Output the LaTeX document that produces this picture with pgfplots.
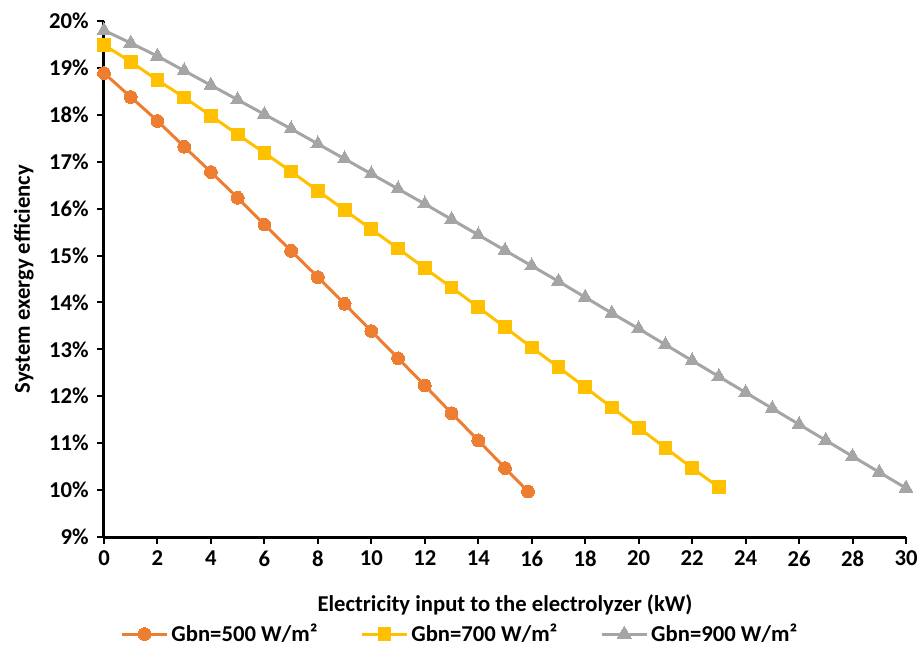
\documentclass[border=0pt]{standalone}
\usepackage{fontspec}
\setmainfont{Carlito}
\usepackage{pgfplots}
\pgfplotsset{compat=1.18}
\definecolor{cOrange}{HTML}{ED7D31}
\definecolor{cYellow}{HTML}{FFC000}
\definecolor{cGray}{HTML}{A5A5A5}
\begin{document}
\begin{tikzpicture}
\useasboundingbox (-78pt,-91.5pt) rectangle (614.25pt,402.75pt);
\begin{axis}[
  scale only axis,
  width=601.5pt, height=387pt,
  at={(0,0)}, anchor=south west,
  xmin=0, xmax=30, ymin=9, ymax=20,
  xtick={0,2,...,30}, ytick={9,10,...,20},
  axis lines=left,
  axis line style={line width=2.25pt, -},
  tick style={line width=1.5pt, black},
  tick align=outside,
  major tick length=5pt,
  /pgf/number format/assume math mode=true,
  yticklabel={\pgfmathprintnumber{\tick}\%},
  tick label style={font=\fontsize{17}{20}\selectfont\bfseries},
  xticklabel style={yshift=-2pt},
  yticklabel style={xshift=-3pt},
  xlabel={Electricity input to the electrolyzer (kW)},
  ylabel={System exergy efficiency},
  label style={font=\fontsize{17}{20}\selectfont\bfseries},
  xlabel style={at={(axis description cs:0.5,-0.131)}, anchor=center},
  ylabel style={at={(axis description cs:-0.1,0.5)}, anchor=center},
  legend style={at={(rel axis cs:0.444,-0.188)}, anchor=center, draw=none,
    font=\fontsize{17}{20}\selectfont\bfseries, legend columns=3,
    /tikz/every even column/.append style={column sep=30pt}},
  legend cell align=left,
  legend image code/.code={%
    \draw[#1, mark=none] (0cm,0cm) -- (1.2cm,0cm);
    \draw[#1, only marks] plot coordinates {(0.6cm,0cm)};},
  clip=false,
]
\addplot[color=cOrange, line width=2.25pt, mark=*, mark size=4.8pt, mark options={solid, fill=cOrange, draw=cOrange, line width=0pt}] coordinates {
(0,18.89) (1,18.38) (2,17.87) (3,17.32) (4,16.78) (5,16.23) (6,15.66) (7,15.10) (8,14.54) (9,13.97) (10,13.39) (11,12.81) (12,12.23) (13,11.64) (14,11.06) (15,10.47) (15.86,9.97)
};
\addlegendentry{Gbn=500 W/m²}
\addplot[color=cYellow, line width=2.25pt, mark=square*, mark size=4.8pt, mark options={solid, fill=cYellow, draw=cYellow, line width=0pt}] coordinates {
(0,19.49) (1,19.13) (2,18.74) (3,18.37) (4,17.98) (5,17.58) (6,17.19) (7,16.79) (8,16.38) (9,15.97) (10,15.56) (11,15.15) (12,14.73) (13,14.32) (14,13.90) (15,13.47) (16,13.04) (17,12.62) (18,12.19) (19,11.76) (20,11.33) (21,10.90) (22,10.47) (23,10.06)
};
\addlegendentry{Gbn=700 W/m²}
\addplot[color=cGray, line width=2.25pt, mark=triangle*, mark size=6pt, mark options={solid, fill=cGray, draw=cGray, line width=0pt}] coordinates {
(0,19.80) (1,19.53) (2,19.25) (3,18.94) (4,18.63) (5,18.32) (6,18.01) (7,17.70) (8,17.38) (9,17.06) (10,16.74) (11,16.42) (12,16.10) (13,15.77) (14,15.44) (15,15.11) (16,14.78) (17,14.45) (18,14.11) (19,13.77) (20,13.44) (21,13.10) (22,12.76) (23,12.42) (24,12.08) (25,11.74) (26,11.40) (27,11.06) (28,10.72) (29,10.38) (30,10.04)
};
\addlegendentry{Gbn=900 W/m²}
\end{axis}
\end{tikzpicture}
\end{document}
